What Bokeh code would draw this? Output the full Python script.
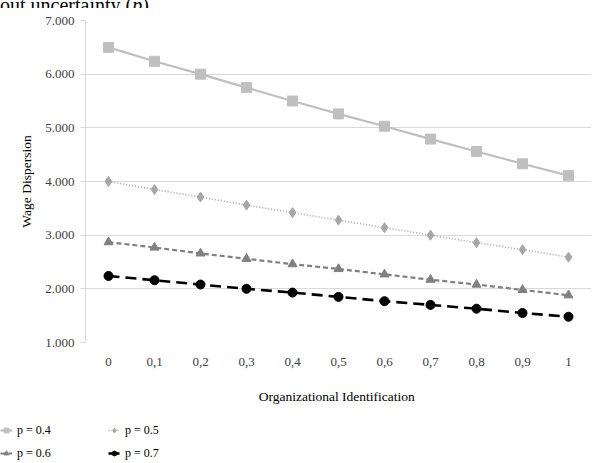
from bokeh.plotting import figure
from bokeh.models import Legend, LegendItem, FixedTicker, Div, Range1d
from bokeh.layouts import column, row
from bokeh.embed import file_html
from bokeh.resources import INLINE

categories = ["0", "0,1", "0,2", "0,3", "0,4", "0,5", "0,6", "0,7", "0,8", "0,9", "1"]
p04 = [6.50, 6.24, 6.00, 5.75, 5.50, 5.26, 5.03, 4.79, 4.56, 4.33, 4.11]
p05 = [4.00, 3.85, 3.71, 3.56, 3.42, 3.28, 3.14, 3.00, 2.86, 2.73, 2.59]
p06 = [2.87, 2.77, 2.66, 2.56, 2.46, 2.37, 2.27, 2.17, 2.08, 1.98, 1.88]
p07 = [2.24, 2.16, 2.08, 2.00, 1.93, 1.85, 1.77, 1.70, 1.63, 1.55, 1.48]
y_ticks = [1, 2, 3, 4, 5, 6, 7]
y_tick_labels = ["1.000", "2.000", "3.000", "4.000", "5.000", "6.000", "7.000"]
series_names = ["p = 0.4", "p = 0.5", "p = 0.6", "p = 0.7"]

SERIF = "'Liberation Serif', 'DejaVu Serif', serif"

styles = [
    dict(color="#bfbfbf", width=2.2, dash="solid", marker="square", size=10),
    dict(color="#a6a6a6", width=1.6, dash="1 2", marker="diamond", size=10),
    dict(color="#808080", width=2.2, dash="5 3", marker="triangle", size=9),
    dict(color="#000000", width=2.6, dash="11 6", marker="circle", size=9),
]
series = [p04, p05, p06, p07]

caption = Div(
    text='<div style="margin-top:-15px;font-family:\'Liberation Serif\',serif;'
         'font-size:20px;line-height:20px;white-space:nowrap;color:#000">'
         'out uncertainty (<i>p</i>).</div>',
    width=594, height=8, margin=0, styles={"overflow": "hidden"})

p = figure(width=594, height=404, x_range=categories, y_range=(1, 7),
           output_backend="svg", toolbar_location=None, margin=0,
           min_border_left=85, min_border_right=3, min_border_top=12, min_border_bottom=70)
p.x_range.range_padding = 0
p.outline_line_color = None

p.xgrid.grid_line_color = None
p.ygrid.grid_line_color = "#d9d9d9"
p.ygrid.grid_line_width = 1

p.yaxis.ticker = FixedTicker(ticks=y_ticks)
p.yaxis.major_label_overrides = {t: l for t, l in zip(y_ticks, y_tick_labels)}
p.yaxis.axis_line_color = "#d9d9d9"
p.yaxis.major_tick_line_color = "#d9d9d9"
p.yaxis.major_tick_out = 5
p.yaxis.major_tick_in = 0
p.yaxis.minor_tick_line_color = None
p.yaxis.major_label_standoff = 6
p.yaxis.axis_label = "Wage Dispersion"
p.yaxis.axis_label_standoff = 8

p.xaxis.axis_line_color = None
p.xaxis.major_tick_line_color = None
p.xaxis.minor_tick_line_color = None
p.xaxis.major_label_standoff = 9
p.xaxis.axis_label = "Organizational  Identification"
p.xaxis.axis_label_standoff = 20

for ax in (p.xaxis, p.yaxis):
    ax.major_label_text_font = SERIF
    ax.major_label_text_font_size = "13px"
    ax.major_label_text_color = "#404040"
    ax.axis_label_text_font = SERIF
    ax.axis_label_text_font_size = "13.5px"
    ax.axis_label_text_font_style = "normal"
    ax.axis_label_text_color = "#000000"

for vals, st in zip(series, styles):
    p.line(categories, vals, line_color=st["color"], line_width=st["width"], line_dash=st["dash"])
    p.scatter(categories, vals, marker=st["marker"], size=st["size"],
              fill_color=st["color"], line_color=st["color"])

# legend strip below the chart (its own series copies lie outside its visible range)
lf = figure(width=594, height=51, x_range=categories, y_range=Range1d(100, 101),
            output_backend="svg", toolbar_location=None, margin=0,
            x_axis_location=None, y_axis_location=None,
            min_border=0, min_border_left=0, min_border_right=0,
            min_border_top=0, min_border_bottom=0)
lf.grid.visible = False
lf.outline_line_color = None

items = {}
for name, vals, st in zip(series_names, series, styles):
    lr = lf.line(categories, vals, line_color=st["color"], line_width=st["width"], line_dash=st["dash"])
    mr = lf.scatter(categories, vals, marker=st["marker"], size=st["size"],
                    fill_color=st["color"], line_color=st["color"])
    items[name] = LegendItem(label=name, renderers=[lr, mr])

legend = Legend(
    items=[items["p = 0.4"], items["p = 0.6"], items["p = 0.5"], items["p = 0.7"]],
    ncols=2, location=(0, 0),
    background_fill_alpha=0, border_line_color=None,
    padding=0, margin=0, spacing=3, glyph_width=12, glyph_height=20,
    label_height=20, label_width=88, label_standoff=5,
    label_text_font=SERIF, label_text_font_size="12px",
    label_text_color="#000000")
lf.add_layout(legend, "center")

open("out.html", "w").write(file_html(column(caption, p, row(lf, spacing=0), spacing=0), INLINE))
